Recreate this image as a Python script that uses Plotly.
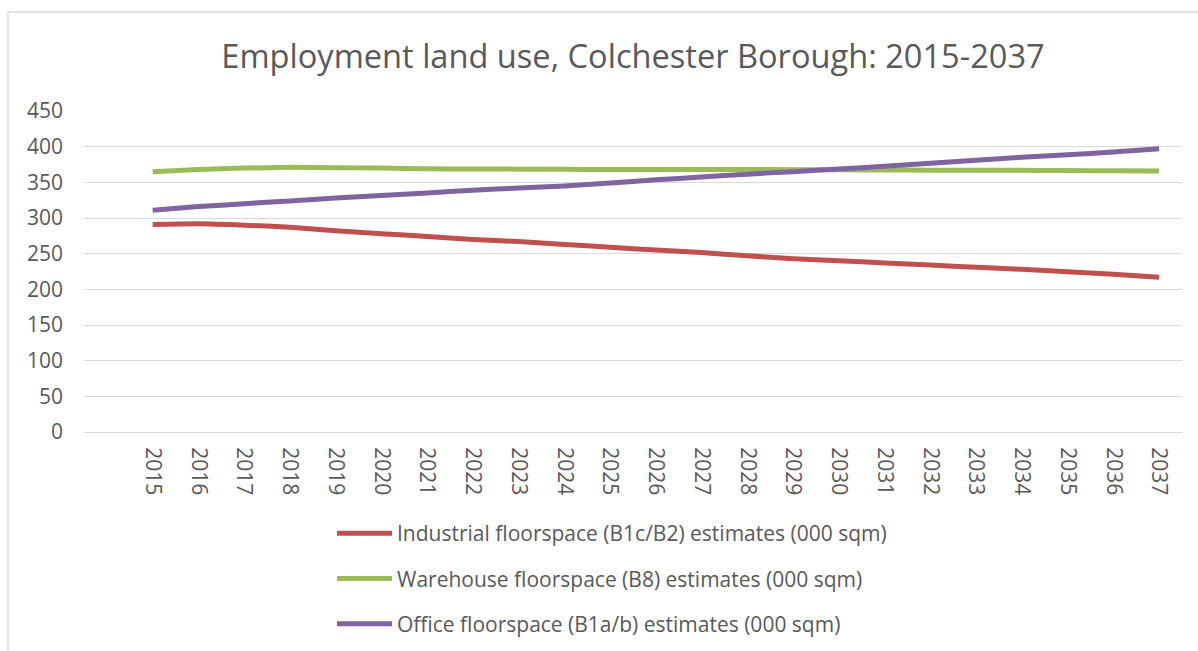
import plotly.graph_objects as go

years = list(range(2015, 2038))
industrial = [291, 292, 290, 287, 282, 278, 274, 270, 267, 263, 259, 255, 251.5, 247, 243, 240, 237, 234, 231, 228, 224.5, 221, 217]
warehouse = [365, 368, 370, 371, 370.5, 370, 369, 368.7, 368.5, 368.3, 368, 368, 368, 368, 367.8, 367.5, 367.3, 367, 367, 366.8, 366.5, 366.3, 366]
office = [311, 316, 320, 324, 328, 331.5, 335, 339, 342, 345, 349, 353.5, 357.5, 361.5, 365, 368.6, 372.5, 376.8, 381, 385, 388.6, 392.6, 397]

names = [
    "Industrial floorspace (B1c/B2) estimates (000 sqm)",
    "Warehouse floorspace (B8) estimates (000 sqm)",
    "Office floorspace (B1a/b) estimates (000 sqm)",
]
colors = ["#C0504D", "#9BBB59", "#8064A2"]
series = [industrial, warehouse, office]

W, H = 1198, 651
L, R, T, B = 84, 16, 111, 219

fig = go.Figure()
for i, (n, c, s) in enumerate(zip(names, colors, series)):
    fig.add_trace(go.Scatter(
        x=years, y=s, name=n, mode="lines",
        line=dict(color=c, width=5, shape="spline", smoothing=0.6),
        legendgroup=str(i),
    ))

def px_x(p):
    return (p - L) / (W - L - R)

def px_y(p):
    return (H - B - p) / (H - T - B)

fig.update_layout(
    width=W, height=H,
    margin=dict(l=L, r=R, t=T, b=B, autoexpand=False),
    paper_bgcolor="white", plot_bgcolor="white",
    font=dict(family="Open Sans", color="#595959", size=21),
    title=dict(text="Employment land use, Colchester Borough: 2015-2037",
               x=0.5, xref="paper", xanchor="center",
               y=1 - 57 / H, yanchor="middle",
               font=dict(size=32.6, color="#595959", family="Open Sans")),
    showlegend=True,
    legend=dict(x=px_x(332), xanchor="left", y=px_y(513), yanchor="top",
                font=dict(size=21, color="#595959"),
                itemwidth=55,
                tracegroupgap=15, bgcolor="rgba(0,0,0,0)"),
    xaxis=dict(range=[2013.5, 2037.5], tickmode="array", tickvals=years,
               ticktext=[str(y) for y in years], tickangle=90,
               showgrid=False, zeroline=False, showline=True,
               linecolor="#D9D9D9", linewidth=1, ticks="",
               ticklabelstandoff=10,
               tickfont=dict(size=21, color="#595959")),
    yaxis=dict(range=[0, 450], dtick=50, showgrid=True, gridcolor="#D9D9D9",
               gridwidth=1, zeroline=False, showline=False, ticks="",
               ticklabelstandoff=20,
               tickfont=dict(size=21, color="#595959")),
    shapes=[
        dict(type="line", xref="paper", yref="paper",
             x0=px_x(8), x1=px_x(1198), y0=px_y(12), y1=px_y(12),
             line=dict(color="#D9D9D9", width=1.5)),
        dict(type="line", xref="paper", yref="paper",
             x0=px_x(8), x1=px_x(8), y0=px_y(12), y1=px_y(651),
             line=dict(color="#D9D9D9", width=1.5)),
    ],
)

fig.write_html("out.html",
               config={"displayModeBar": False},
               post_script="document.body.style.margin='0';document.body.style.overflow='hidden';")
